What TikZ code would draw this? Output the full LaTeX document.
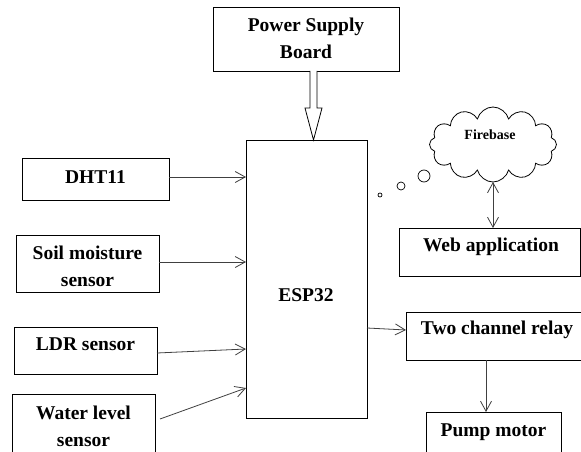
\documentclass[tikz,border=0pt]{standalone}
\usepackage{fontspec}
\setmainfont{Liberation Serif}
\usetikzlibrary{arrows.meta,shapes.symbols,calc}
\begin{document}
\begin{tikzpicture}[x=1pt,y=-1pt,
  blk/.style={draw=black, line width=0.9pt, inner sep=0pt, outer sep=0pt},
  lbl/.style={font=\fontsize{19.5}{27}\selectfont\bfseries, align=center, inner sep=0pt},
  con/.style={draw=black!75, line width=0.8pt, -{Straight Barb[length=10pt,width=11pt]}},
  bub/.style={circle, draw=black, line width=0.7pt, inner sep=0pt, outer sep=0pt}
]
\useasboundingbox (0,0) rectangle (581,452);
\clip (0,0) rectangle (581,452);
\fill[white] (0,0) rectangle (581,452);

% boxes
\node[blk, minimum width=186pt, minimum height=64pt] (psb) at (306,39) {};
\node[lbl] (psbt) at (306,38.5) {Power Supply\\Board};

\node[blk, minimum width=121pt, minimum height=278pt] (esp) at (306.5,279) {};
\node[lbl] (espt) at (306,295) {ESP32};

\node[blk, minimum width=147pt, minimum height=42pt] (dht) at (95.5,179) {};
\node[lbl] (dhtt) at (95.5,177) {DHT11};

\node[blk, minimum width=143pt, minimum height=57pt] (soil) at (87.5,263.5) {};
\node[lbl] (soilt) at (87.5,266.5) {Soil moisture\\sensor};

\node[blk, minimum width=143pt, minimum height=47pt] (ldr) at (85.5,350.5) {};
\node[lbl] (ldrt) at (85.5,344) {LDR sensor};

\node[blk, minimum width=143pt, minimum height=66pt] (water) at (83.5,427) {};
\node[lbl] (watert) at (83.5,426) {Water level\\sensor};

\node[blk, minimum width=181pt, minimum height=48pt] (web) at (489.5,252) {};
\node[lbl] (webt) at (491,247) {Web application};

\node[blk, minimum width=175pt, minimum height=48pt] (relay) at (493.5,336) {};
\node[lbl] (relayt) at (497,330) {Two channel relay};

\node[blk, minimum width=135pt, minimum height=48pt] (pump) at (493.5,436) {};
\node[lbl] (pumpt) at (493.5,432) {Pump motor};

% cloud and thought bubbles
\node[cloud, cloud puffs=12, draw=black, line width=0.8pt, aspect=1.7,
      minimum width=127pt, minimum height=75pt, inner sep=0pt, outer sep=0pt] (fb) at (493,144.5) {};
\node[font=\fontsize{14}{16}\selectfont\bfseries, inner sep=0pt] (fbt) at (490,135) {Firebase};
\node[bub, minimum size=4pt] (b1) at (380,195) {};
\node[bub, minimum size=8pt] (b2) at (401,186) {};
\node[bub, minimum size=12pt] (b3) at (424,176) {};

% hollow power arrow
\draw[line width=0.8pt, fill=white, line join=miter]
  ($(psb.south)+(4,0)$) -- ($(psb.south)+(4,37)$) -- ($(psb.south)+(-1,37)$)
  -- ($(esp.north)+(7,0)$)
  -- ($(psb.south)+(16,37)$) -- ($(psb.south)+(11,37)$) -- ($(psb.south)+(11,0)$);

% connectors
\draw[con] ($(dht.east)+(0,-2)$) -- ($(esp.west |- dht.east)+(0,-2)$);
\draw[con] ($(soil.east)+(0,-1.5)$) -- ($(esp.west |- soil.east)+(0,-1.5)$);
\draw[con] ($(ldr.east)+(0,2.5)$) -- ($(esp.west |- ldr.east)+(0,-1.5)$);
\draw[con] ($(water.east)+(5,-8)$) -- ($(esp.west)+(0,109)$);
\draw[con] ($(esp.east)+(0,49)$) -- ($(relay.west)+(0,-6)$);
\draw[con] ($(relay.south)+(-7.5,0)$) -- ($(pump.north)+(-7.5,0)$);
\draw[con, {Straight Barb[length=10pt,width=11pt]}-{Straight Barb[length=10pt,width=11pt]}]
  (fb.south) -- (fb.south |- web.north);
\end{tikzpicture}
\end{document}
